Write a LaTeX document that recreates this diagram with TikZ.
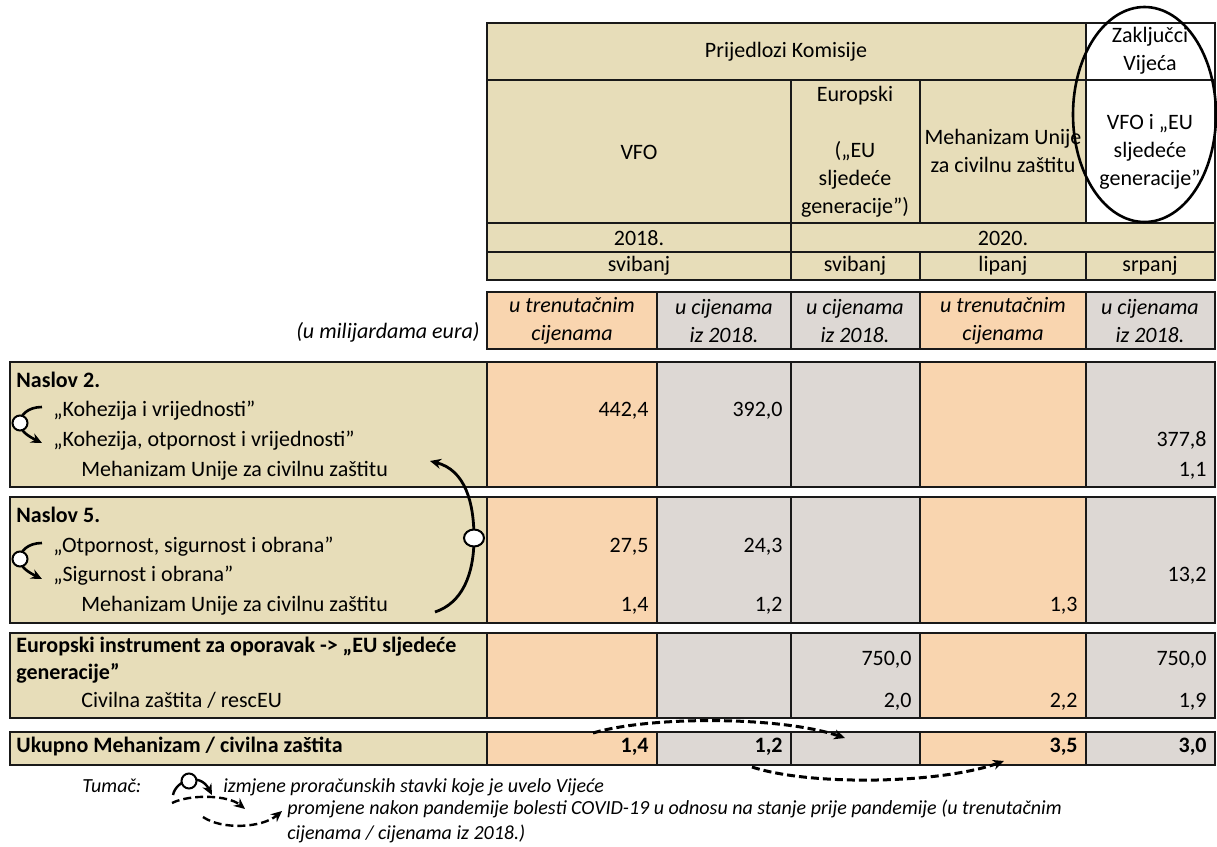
\documentclass[tikz,border=0pt]{standalone}
\usepackage{fontspec}
\setmainfont{Carlito}
\usetikzlibrary{shapes.geometric, arrows.meta}
\definecolor{beige}{HTML}{E7DDB9}
\definecolor{peach}{HTML}{F9D5AF}
\definecolor{stone}{HTML}{DDD8D4}

\begin{document}
\begin{tikzpicture}[x=0.5pt, y=-0.5pt, >={Stealth[length=5.5pt, width=5pt]},
        cell/.style={draw=black!90, line width=1pt},
        txt/.style={inner sep=0pt, align=center, font=\fontsize{11}{14}\selectfont},
        unitxt/.style={inner sep=0pt, align=center, font=\fontsize{11}{14}\selectfont\itshape},
        val/.style={inner sep=0pt, anchor=mid east, font=\fontsize{11}{14}\selectfont},
        sum/.style={val, font=\fontsize{11}{14}\selectfont\bfseries},
        item/.style={inner sep=0pt, anchor=mid west, font=\fontsize{11}{14}\selectfont},
        head/.style={item, font=\fontsize{11}{14}\selectfont\bfseries},
        note/.style={inner sep=0pt, anchor=mid west, font=\fontsize{10}{12}\selectfont\itshape},
        ring/.style={draw, circle, fill=white, line width=1pt, inner sep=0pt, minimum size=7.5pt},
        council/.style={->, line width=1.4pt},
        covid/.style={->, dash pattern=on 4pt off 2pt, line width=1.5pt}]
        \useasboundingbox (0,0) rectangle (1217,847);

        % Header cells
        \draw[cell, fill=beige] (487,23) rectangle (1086,80);
        \draw[cell, fill=white] (1086,23) rectangle (1215,80);
        \draw[cell, fill=beige] (487,80) rectangle (791,223);
        \draw[cell, fill=beige] (791,80) rectangle (920,223);
        \draw[cell, fill=beige] (920,80) rectangle (1086,223);
        \draw[cell, fill=white] (1086,80) rectangle (1215,223);
        \draw[cell, fill=beige] (487,223) rectangle (791,252);
        \draw[cell, fill=beige] (791,223) rectangle (1215,252);
        \draw[cell, fill=beige] (487,252) rectangle (791,280);
        \draw[cell, fill=beige] (791,252) rectangle (920,280);
        \draw[cell, fill=beige] (920,252) rectangle (1086,280);
        \draw[cell, fill=beige] (1086,252) rectangle (1215,280);

        % Units row
        \draw[cell, fill=peach] (487,292) rectangle (657,349);
        \draw[cell, fill=stone] (657,292) rectangle (791,349);
        \draw[cell, fill=stone] (791,292) rectangle (920,349);
        \draw[cell, fill=peach] (920,292) rectangle (1086,349);
        \draw[cell, fill=stone] (1086,292) rectangle (1215,349);

        % Body blocks
        \draw[cell, fill=beige] (10,362) rectangle (487,487);
        \draw[cell, fill=peach] (487,362) rectangle (657,487);
        \draw[cell, fill=stone] (657,362) rectangle (791,487);
        \draw[cell, fill=stone] (791,362) rectangle (920,487);
        \draw[cell, fill=peach] (920,362) rectangle (1086,487);
        \draw[cell, fill=stone] (1086,362) rectangle (1215,487);

        \draw[cell, fill=beige] (10,497) rectangle (487,623);
        \draw[cell, fill=peach] (487,497) rectangle (657,623);
        \draw[cell, fill=stone] (657,497) rectangle (791,623);
        \draw[cell, fill=stone] (791,497) rectangle (920,623);
        \draw[cell, fill=peach] (920,497) rectangle (1086,623);
        \draw[cell, fill=stone] (1086,497) rectangle (1215,623);

        \draw[cell, fill=beige] (10,633) rectangle (487,718);
        \draw[cell, fill=peach] (487,633) rectangle (657,718);
        \draw[cell, fill=stone] (657,633) rectangle (791,718);
        \draw[cell, fill=stone] (791,633) rectangle (920,718);
        \draw[cell, fill=peach] (920,633) rectangle (1086,718);
        \draw[cell, fill=stone] (1086,633) rectangle (1215,718);

        \draw[cell, fill=beige] (10,732) rectangle (487,765);
        \draw[cell, fill=peach] (487,732) rectangle (657,765);
        \draw[cell, fill=stone] (657,732) rectangle (791,765);
        \draw[cell, fill=stone] (791,732) rectangle (920,765);
        \draw[cell, fill=peach] (920,732) rectangle (1086,765);
        \draw[cell, fill=stone] (1086,732) rectangle (1215,765);

        % Header texts
        \node[txt] (prop) at (786,52) {Prijedlozi Komisije};
        \node[txt] (concl) at (1150,51) {Zaključci\\Vijeća};
        \node[txt] (vfo) at (639,152) {VFO};
        \node[txt] (ngeu) at (855,152) {Europski\\[14pt](„EU\\sljedeće\\generacije”)};
        \node[txt] (ucpm) at (1003,151) {Mehanizam Unije\\za civilnu zaštitu};
        \node[txt] (deal) at (1150,152) {VFO i „EU\\sljedeće\\generacije”};
        \node[txt] (y18) at (639,238) {2018.};
        \node[txt] (y20) at (1003,238) {2020.};
        \node[txt] (m1) at (639,266) {svibanj};
        \node[txt] (m2) at (855,266) {svibanj};
        \node[txt] (m3) at (1003,266) {lipanj};
        \node[txt] (m4) at (1150,266) {srpanj};
        \node[draw, ellipse, line width=1.3pt, inner sep=0pt, minimum width=71.5pt, minimum height=107.5pt] (focus) at (1144.5,114.5) {};

        % Units
        \node[unitxt, anchor=mid east] (unit) at (480,334) {(u milijardama eura)};
        \node[unitxt] (p1) at (572,321) {u trenutačnim\\cijenama};
        \node[unitxt] (p2) at (724,321) {u cijenama\\iz 2018.};
        \node[unitxt] (p3) at (855,321) {u cijenama\\iz 2018.};
        \node[unitxt] (p4) at (1003,321) {u trenutačnim\\cijenama};
        \node[unitxt] (p5) at (1150,321) {u cijenama\\iz 2018.};

        % Row labels
        \node[head] (h2) at (16,383) {Naslov 2.};
        \node[item] (h2a) at (53,412) {„Kohezija i vrijednosti”};
        \node[item] (h2b) at (53,442) {„Kohezija, otpornost i vrijednosti”};
        \node[item] (h2c) at (81,472) {Mehanizam Unije za civilnu zaštitu};
        \node[head] (h5) at (16,518) {Naslov 5.};
        \node[item] (h5a) at (53,548) {„Otpornost, sigurnost i obrana”};
        \node[item] (h5b) at (53,577) {„Sigurnost i obrana”};
        \node[item] (h5c) at (81,607) {Mehanizam Unije za civilnu zaštitu};
        \node[head] (eri) at (16,648) {Europski instrument za oporavak -> „EU sljedeće};
        \node[head] (eri2) at (16,675) {generacije”};
        \node[item] (resc) at (81,703) {Civilna zaštita / rescEU};
        \node[head] (tot) at (16,748) {Ukupno Mehanizam / civilna zaštita};

        % Values
        \node[val] (a1) at (649,412) {442,4};
        \node[val] (a2) at (783,412) {392,0};
        \node[val] (a5) at (1207,442) {377,8};
        \node[val] (b5) at (1207,472) {1,1};
        \node[val] (c1) at (649,548) {27,5};
        \node[val] (c2) at (783,548) {24,3};
        \node[val] (c5) at (1207,577) {13,2};
        \node[val] (d1) at (649,607) {1,4};
        \node[val] (d2) at (783,607) {1,2};
        \node[val] (d4) at (1078,607) {1,3};
        \node[val] (e3) at (912,661) {750,0};
        \node[val] (e5) at (1207,661) {750,0};
        \node[val] (f3) at (912,703) {2,0};
        \node[val] (f4) at (1078,703) {2,2};
        \node[val] (f5) at (1207,703) {1,9};
        \node[sum] (t1) at (649,748) {1,4};
        \node[sum] (t2) at (783,748) {1,2};
        \node[sum] (t4) at (1078,748) {3,5};
        \node[sum] (t5) at (1207,748) {3,0};

        % Council changes
        \coordinate (k2a) at (42,407);
        \coordinate (k2b) at (42,443);
        \draw[council, line width=1.3pt] (k2a) .. controls (28,407) and (20,415) .. (20,423) .. controls (20,431) and (28,436) .. (k2b);
        \node[ring] (k2r) at (20,423) {};
        \coordinate (k5a) at (42,543);
        \coordinate (k5b) at (42,579);
        \draw[council, line width=1.3pt] (k5a) .. controls (28,543) and (20,551) .. (20,559) .. controls (20,567) and (28,572) .. (k5b);
        \node[ring] (k5r) at (20,559) {};
        \coordinate (mt) at (435,612);
        \coordinate (mh) at (430,461);
        \draw[council] (mt) .. controls (462,603) and (474,575) .. (474,538) .. controls (474,502) and (465,470) .. (mh);
        \node[draw, ellipse, fill=white, line width=1pt, inner sep=0pt, minimum width=10pt, minimum height=8.5pt] (mr) at (474,538) {};

        % Covid changes
        \coordinate (d1a) at (593,733);
        \coordinate (d1b) at (845,738);
        \draw[covid] (d1a) .. controls (650,716) and (780,716) .. (d1b);
        \coordinate (d2a) at (752,767);
        \coordinate (d2b) at (1004,761);
        \draw[covid] (d2a) .. controls (810,786) and (940,784) .. (d2b);

        % Legend
        \node[note] (tum) at (82,788) {Tumač:};
        \coordinate (l1a) at (173,795);
        \coordinate (l1b) at (212,795);
        \draw[council, line width=1.2pt] (l1a) .. controls (176,780) and (200,772) .. (l1b);
        \node[ring] (l1r) at (189,781) {};
        \node[note] (leg1) at (223,788) {izmjene proračunskih stavki koje je uvelo Vijeće};
        \coordinate (l2a) at (172,803);
        \coordinate (l2b) at (245,809);
        \coordinate (l3a) at (203,817);
        \coordinate (l3b) at (282,811);
        \draw[covid, line width=1.2pt] (l2a) .. controls (190,794) and (228,795) .. (l2b);
        \draw[covid, line width=1.2pt] (l3a) .. controls (222,830) and (262,828) .. (l3b);
        \node[note] (leg2) at (287,810) {promjene nakon pandemije bolesti COVID-19 u odnosu na stanje prije pandemije (u trenutačnim};
        \node[note] (leg3) at (287,835) {cijenama / cijenama iz 2018.)};
\end{tikzpicture}
\end{document}
